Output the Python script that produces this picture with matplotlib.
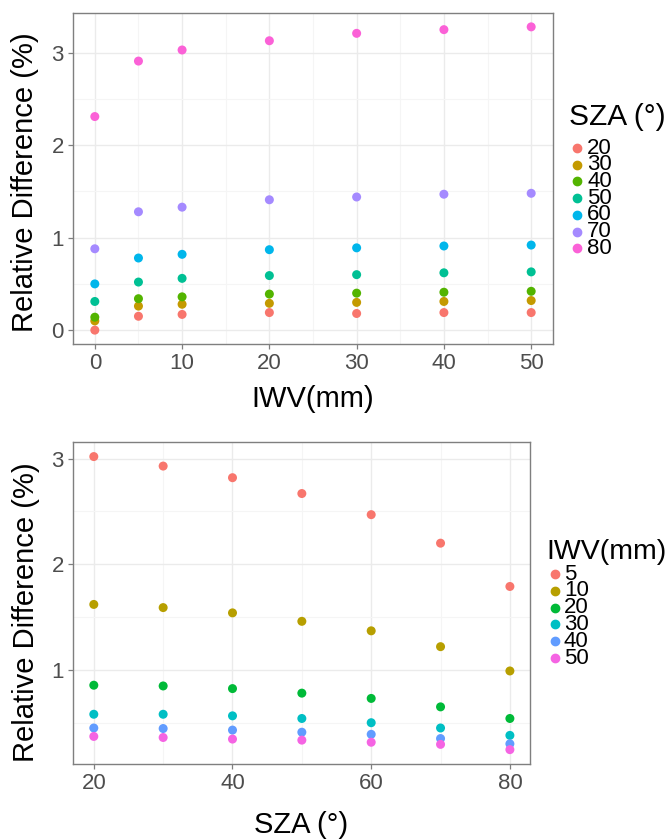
import matplotlib
matplotlib.use("Agg")
import matplotlib.pyplot as plt
from matplotlib.lines import Line2D

plt.rcParams['font.family'] = ['Liberation Sans', 'DejaVu Sans']

# panel 1: relative difference vs IWV, one series per SZA
iwv = [0, 5, 10, 20, 30, 40, 50]
sza_levels = ['20', '30', '40', '50', '60', '70', '80']
rd_by_sza = {
    '20': [0.00, 0.15, 0.17, 0.19, 0.18, 0.19, 0.19],
    '30': [0.10, 0.26, 0.28, 0.29, 0.30, 0.31, 0.32],
    '40': [0.14, 0.34, 0.36, 0.39, 0.40, 0.41, 0.42],
    '50': [0.31, 0.52, 0.56, 0.59, 0.60, 0.62, 0.63],
    '60': [0.50, 0.78, 0.82, 0.87, 0.89, 0.91, 0.92],
    '70': [0.88, 1.28, 1.33, 1.41, 1.44, 1.47, 1.48],
    '80': [2.31, 2.91, 3.03, 3.13, 3.21, 3.25, 3.28],
}
sza_colors = ['#F8766D', '#C49A00', '#53B400', '#00C094', '#00B6EB', '#A58AFF', '#FB61D7']

# panel 2: relative difference vs SZA, one series per IWV
sza = [20, 30, 40, 50, 60, 70, 80]
iwv_levels = ['5', '10', '20', '30', '40', '50']
rd_by_iwv = {
    '5':  [3.02, 2.93, 2.82, 2.67, 2.47, 2.20, 1.79],
    '10': [1.62, 1.59, 1.54, 1.46, 1.37, 1.22, 0.99],
    '20': [0.855, 0.848, 0.823, 0.78, 0.73, 0.65, 0.54],
    '30': [0.58, 0.58, 0.565, 0.54, 0.50, 0.45, 0.38],
    '40': [0.45, 0.445, 0.43, 0.41, 0.39, 0.35, 0.30],
    '50': [0.37, 0.36, 0.345, 0.335, 0.315, 0.295, 0.245],
}
iwv_colors = ['#F8766D', '#B79F00', '#00BA38', '#00BFC4', '#619CFF', '#F564E3']

W, H = 669, 840
fig = plt.figure(figsize=(W / 100, H / 100), dpi=100)


def style_axes(ax):
    """ggplot theme_bw look"""
    ax.set_facecolor('white')
    for s in ax.spines.values():
        s.set_color('#7F7F7F')
        s.set_linewidth(1.0)
    ax.grid(True, which='major', color='#EBEBEB', linewidth=1.0)
    ax.grid(True, which='minor', color='#F5F5F5', linewidth=0.8)
    ax.set_axisbelow(True)
    ax.tick_params(which='major', length=3.6, width=0.9, color='#7F7F7F',
                   labelcolor='#4D4D4D', labelsize=16, pad=3)
    ax.tick_params(which='minor', length=0)


# top panel
ax1 = fig.add_axes([73 / W, 1 - 344 / H, 480 / W, 331 / H])
style_axes(ax1)
for lev, col in zip(sza_levels, sza_colors):
    ax1.scatter(iwv, rd_by_sza[lev], s=42, color=col, edgecolors='none', zorder=3)
ax1.set_xlim(-2.5, 52.5)
ax1.set_ylim(-0.15, 3.43)
ax1.set_xticks([0, 10, 20, 30, 40, 50])
ax1.set_xticks([5, 15, 25, 35, 45], minor=True)
ax1.set_yticks([0, 1, 2, 3])
ax1.set_yticks([0.5, 1.5, 2.5], minor=True)
ax1.set_xlabel('IWV(mm)', fontsize=21)
ax1.set_ylabel('Relative Difference (%)', fontsize=21)
ax1.xaxis.set_label_coords(0.5, -0.125)
ax1.yaxis.set_label_coords(-0.07, 0.488)

# bottom panel
ax2 = fig.add_axes([73 / W, 1 - 764 / H, 457 / W, 322 / H])
style_axes(ax2)
for lev, col in zip(iwv_levels, iwv_colors):
    ax2.scatter(sza, rd_by_iwv[lev], s=42, color=col, edgecolors='none', zorder=3)
ax2.set_xlim(17.0, 82.9)
ax2.set_ylim(0.109, 3.158)
ax2.set_xticks([20, 40, 60, 80])
ax2.set_xticks([30, 50, 70], minor=True)
ax2.set_yticks([1, 2, 3])
ax2.set_yticks([0.5, 1.5, 2.5], minor=True)
ax2.set_xlabel('SZA (°)', fontsize=21)
ax2.set_ylabel('Relative Difference (%)', fontsize=21)
ax2.xaxis.set_label_coords(0.5, -0.145)
ax2.yaxis.set_label_coords(-0.073, 0.472)


# legends (placed by hand, ggplot style with tight key spacing)
def legend_block(title, labels, colors, x_dot, x_text, x_title, y_title, y0, dy, tsize):
    fig.text(x_title / W, 1 - y_title / H, title, fontsize=tsize, va='center', ha='left')
    for i, (lab, col) in enumerate(zip(labels, colors)):
        y = y0 + i * dy
        fig.add_artist(Line2D([x_dot / W], [1 - y / H], marker='o', markersize=6,
                              color=col, linestyle='none', transform=fig.transFigure))
        fig.text(x_text / W, 1 - y / H, lab, fontsize=16, va='center', ha='left')


legend_block('SZA (°)', sza_levels, sza_colors, 577, 587, 569, 117, 148, 16.7, 21.5)
legend_block('IWV(mm)', iwv_levels, iwv_colors, 555, 564, 546, 552, 574, 16.8, 20.5)

fig.savefig('out.png', dpi=100, facecolor='white')
